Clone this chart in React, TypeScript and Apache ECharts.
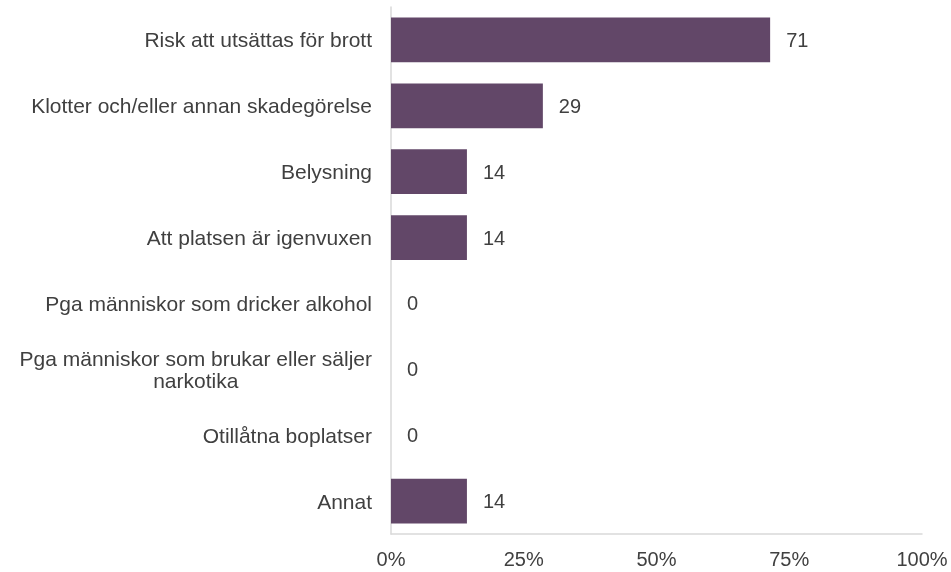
import React, { useEffect, useRef } from "react";
import * as echarts from "echarts";

const categories = [
  "Risk att utsättas för brott",
  "Klotter och/eller annan skadegörelse",
  "Belysning",
  "Att platsen är igenvuxen",
  "Pga människor som dricker alkohol",
  "Pga människor som brukar eller säljer\nnarkotika",
  "Otillåtna boplatser",
  "Annat",
];
const values = [71.4, 28.6, 14.3, 14.3, 0, 0, 0, 14.3];
const xTicks = [0, 25, 50, 75, 100];

const TEXT = "#404040";
const AXIS = "#d9d9d9";
const BAR = "#624768";
const FONT = "Arial, 'Liberation Sans', sans-serif";

export default function App() {
  const ref = useRef<HTMLDivElement>(null);
  useEffect(() => {
    if (!ref.current) return;
    const chart = echarts.init(ref.current, undefined, { renderer: "svg" });
    chart.setOption({
      animation: false,
      textStyle: { fontFamily: FONT },
      grid: { left: 391, right: 29, top: 7, bottom: 38, containLabel: false },
      xAxis: {
        type: "value",
        min: xTicks[0],
        max: xTicks[xTicks.length - 1],
        interval: 25,
        axisLine: { show: true, lineStyle: { color: AXIS, width: 1.5 } },
        axisTick: { show: false },
        splitLine: { show: false },
        axisLabel: {
          formatter: "{value}%",
          color: TEXT,
          fontSize: 20,
          margin: 15,
          fontFamily: FONT,
        },
      },
      yAxis: {
        type: "category",
        inverse: true,
        data: categories,
        axisLine: { show: true, lineStyle: { color: AXIS, width: 1.5 } },
        axisTick: { show: false },
        axisLabel: {
          margin: 19,
          formatter: (v: string) =>
            v
              .split("\n")
              .map((l) => "{c|" + l + "}")
              .join("\n"),
          rich: {
            c: {
              fontSize: 21,
              color: TEXT,
              align: "center",
              lineHeight: 22,
              fontFamily: FONT,
            },
          },
        },
      },
      series: [
        {
          type: "bar",
          data: values,
          barCategoryGap: "32%",
          itemStyle: { color: BAR },
          label: {
            show: true,
            position: "right",
            distance: 16,
            color: TEXT,
            fontSize: 20,
            fontFamily: FONT,
            formatter: (p: any) => String(Math.round(p.value)),
          },
        },
      ],
    });
    return () => chart.dispose();
  }, []);
  return (
    <div
      ref={ref}
      style={{ position: "fixed", left: 0, top: 0, width: 951, height: 572 }}
    />
  );
}
